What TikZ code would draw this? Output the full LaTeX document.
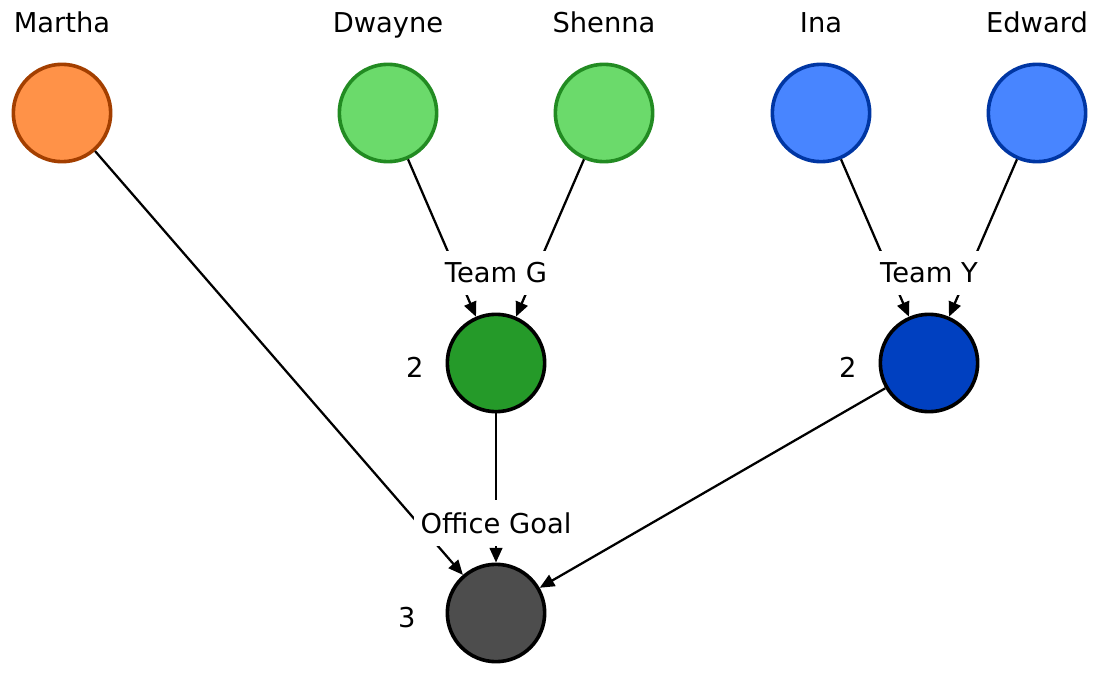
\documentclass[tikz,border=0pt]{standalone}
\usepackage{fontspec}
\setmainfont{DejaVu Sans}
\usepackage{tikz}
\usetikzlibrary{positioning,arrows.meta}
\usepackage{xcolor}

\definecolor{orangefill}{HTML}{FF9248}
\definecolor{orangeline}{HTML}{A33F00}
\definecolor{greenfill}{HTML}{6BDA6B}
\definecolor{greenline}{HTML}{228B22}
\definecolor{bluefill}{HTML}{4885FF}
\definecolor{blueline}{HTML}{0036A3}
\definecolor{greendark}{HTML}{259A29}
\definecolor{bluedark}{HTML}{0040C0}
\definecolor{officegray}{HTML}{4D4D4D}

\begin{document}
\begin{tikzpicture}[x=0.75pt, y=-0.75pt,
    every node/.style={font=\fontsize{20.5}{24}\selectfont},
    every label/.style={text height=15pt, text depth=5pt},
    member/.style={circle, draw, line width=2.7pt, minimum size=73pt, inner sep=0pt},
    group/.style={member, draw=black},
    count/.style={label distance=#1, yshift=-6pt},
    edge/.style={line width=1.7pt, -{Triangle[length=11pt,width=9.5pt]}},
    goal/.style={fill=white, inner xsep=5pt, inner ysep=9pt}]
    \useasboundingbox (0,0) rectangle (1100,677);

    % people
    \node[member, fill=orangefill, draw=orangeline, label={[label distance=14pt]above:Martha}] (martha) at (62,113) {};
    \node[member, fill=greenfill, draw=greenline, label={[label distance=14pt]above:Dwayne}] (dwayne) at (388,113) {};
    \node[member, fill=greenfill, draw=greenline, label={[label distance=14pt]above:Shenna}] (shenna) at (604,113) {};
    \node[member, fill=bluefill, draw=blueline, label={[label distance=14pt]above:Ina}] (ina) at (821,113) {};
    \node[member, fill=bluefill, draw=blueline, label={[label distance=14pt]above:Edward}] (edward) at (1037,113) {};

    % teams and office
    \node[group, fill=greendark, label={[count=13pt]left:2}] (teamg) at (496,363) {};
    \node[group, fill=bluedark, label={[count=13pt]left:2}] (teamy) at (929,363) {};
    \node[group, fill=officegray, label={[count=19pt]left:3}] (office) at (496,613) {};

    % edges
    \draw[edge] (dwayne) -- (teamg);
    \draw[edge] (shenna) -- (teamg);
    \draw[edge] (ina) -- (teamy);
    \draw[edge] (edward) -- (teamy);
    \draw[edge] (martha) -- (office);
    \draw[edge] (teamg) -- (office);
    \draw[edge] (teamy) -- (office);

    % goal labels
    \node[goal] (goalg) at (496,273) {Team G};
    \node[goal] (goaly) at (929,273) {Team Y};
    \node[goal] (goaloffice) at (496,523) {Office Goal};
\end{tikzpicture}
\end{document}
